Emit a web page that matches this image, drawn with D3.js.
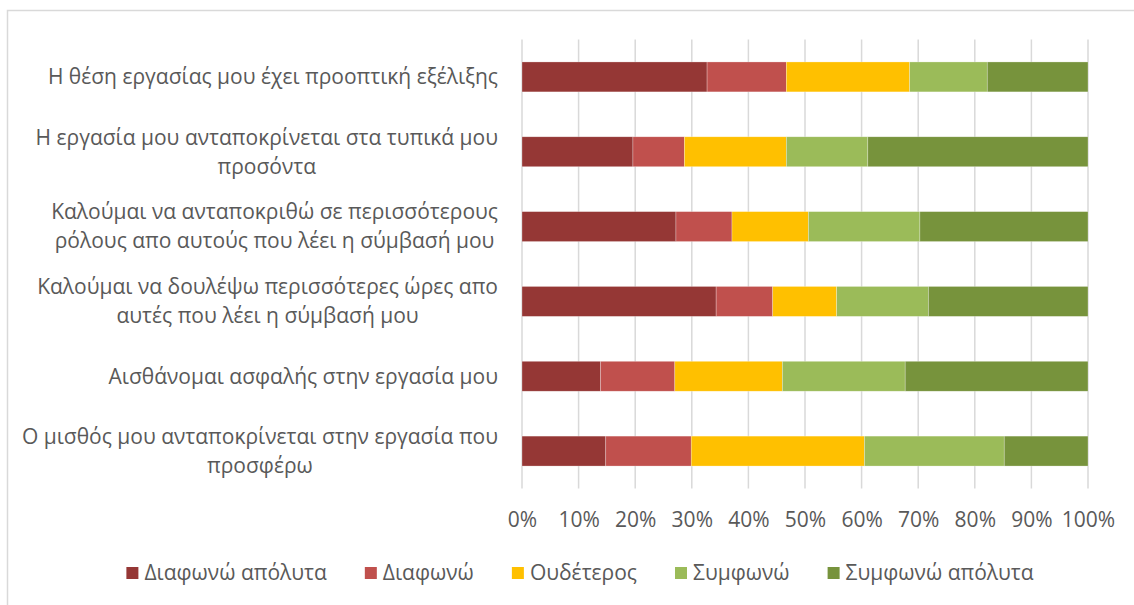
<!DOCTYPE html>
<html>
<head>
<meta charset="utf-8">
<script src="https://cdn.jsdelivr.net/npm/d3@7"></script>
<style>
  html, body { margin: 0; padding: 0; background: #fff; }
  svg { display: block; }
</style>
</head>
<body>
<svg id="chart" width="1134" height="605"></svg>
<script>
// ---------- DATA ----------
const categories = [
  "Η θέση εργασίας μου έχει προοπτική εξέλιξης",
  "Η εργασία μου ανταποκρίνεται στα τυπικά μου\nπροσόντα",
  "Καλούμαι να ανταποκριθώ σε περισσότερους\nρόλους απο αυτούς που λέει η σύμβασή μου",
  "Καλούμαι να δουλέψω περισσότερες ώρες απο\nαυτές που λέει η σύμβασή μου",
  "Αισθάνομαι ασφαλής στην εργασία μου",
  "Ο μισθός μου ανταποκρίνεται στην εργασία που\nπροσφέρω"
];
const seriesNames = ["Διαφωνώ απόλυτα", "Διαφωνώ", "Ουδέτερος", "Συμφωνώ", "Συμφωνώ απόλυτα"];
const seriesColors = ["#953735", "#C0504D", "#FFC000", "#9BBB59", "#77933C"];
const stronglyDisagree = [32.7, 19.6, 27.2, 34.3, 13.9, 14.8];
const disagree         = [14.0,  9.1,  9.9, 10.0, 13.1, 15.1];
const neutral          = [21.8, 18.0, 13.5, 11.3, 19.0, 30.6];
const agree            = [13.7, 14.4, 19.7, 16.2, 21.7, 24.7];
const stronglyAgree    = [17.8, 38.9, 29.7, 28.2, 32.3, 14.8];
const tickValues = [0, 0.1, 0.2, 0.3, 0.4, 0.5, 0.6, 0.7, 0.8, 0.9, 1.0];

// ---------- BUILD ----------
const seriesValues = [stronglyDisagree, disagree, neutral, agree, stronglyAgree];
const rows = categories.map((c, i) => {
  const r = { cat: c };
  seriesNames.forEach((s, j) => r[s] = seriesValues[j][i]);
  return r;
});
const stacked = d3.stack().keys(seriesNames).offset(d3.stackOffsetExpand)(rows);

const svg = d3.select("#chart");
const textColor = "#595959";
const gridColor = "#d9d9d9";
const fontFam = "'Open Sans', sans-serif";

// chart border
svg.append("rect")
  .attr("x", 7.5).attr("y", 10.5).attr("width", 1300).attr("height", 800)
  .attr("fill", "none").attr("stroke", gridColor).attr("stroke-width", 1.5);

const plot = { left: 522, right: 1088, top: 39.5, bottom: 488.5 };

const x = d3.scaleLinear().domain([0, 1]).range([plot.left, plot.right]);
const y = d3.scaleBand().domain(categories).range([plot.top, plot.bottom])
  .paddingInner(0.6).paddingOuter(0.3);

// gridlines
svg.append("g").selectAll("line").data(tickValues).join("line")
  .attr("x1", d => x(d)).attr("x2", d => x(d))
  .attr("y1", plot.top).attr("y2", plot.bottom)
  .attr("stroke", gridColor).attr("stroke-width", 1.5);

// bars
const color = d3.scaleOrdinal().domain(seriesNames).range(seriesColors);
svg.append("g").selectAll("g").data(stacked).join("g")
  .attr("fill", d => color(d.key))
  .selectAll("rect").data(d => d).join("rect")
  .attr("x", d => x(d[0]))
  .attr("width", d => x(d[1]) - x(d[0]))
  .attr("y", d => y(d.data.cat))
  .attr("height", y.bandwidth())
  .attr("stroke", "rgba(255,255,255,0.45)")
  .attr("stroke-width", 0.6);

// x axis (labels only)
const xAxis = d3.axisBottom(x).tickValues(tickValues).tickFormat(d3.format(".0%")).tickSize(0);
const gx = svg.append("g").attr("transform", `translate(0,${plot.bottom})`).call(xAxis);
gx.select(".domain").remove();
gx.selectAll("text")
  .attr("y", 31)
  .attr("dy", "0.35em")
  .attr("fill", textColor)
  .style("font-family", fontFam)
  .style("font-size", "21px");

// category labels (wrapped, block right-aligned, lines centered)
const labelRight = 498;
const lineH = 29;
const catG = svg.append("g")
  .style("font-family", fontFam)
  .style("font-size", "21px")
  .attr("fill", textColor);
categories.forEach(c => {
  const lines = c.split("\n");
  const g = catG.append("g");
  const cy = y(c) + y.bandwidth() / 2;
  const texts = lines.map((ln, k) => g.append("text")
    .attr("y", cy + (k - (lines.length - 1) / 2) * lineH)
    .attr("dy", "0.35em")
    .attr("text-anchor", "middle")
    .text(ln));
  const maxW = d3.max(texts, t => t.node().getComputedTextLength());
  texts.forEach(t => t.attr("x", labelRight - maxW / 2));
});

// legend
const legY = 573;
const sw = 12;
const legG = svg.append("g")
  .style("font-family", fontFam)
  .style("font-size", "21px");
let cursor = 123;
const gap = 38;
seriesNames.forEach((s, i) => {
  const g = legG.append("g");
  g.append("rect").attr("x", cursor).attr("y", legY - sw / 2).attr("width", sw).attr("height", sw)
    .attr("fill", seriesColors[i]);
  const t = g.append("text").attr("x", cursor + sw + 6).attr("y", legY).attr("dy", "0.35em")
    .attr("fill", textColor).text(s);
  cursor += sw + 6 + t.node().getComputedTextLength() + gap;
});
const totalW = cursor - gap - 123;
const shift = 580 - (123 + totalW / 2);
legG.attr("transform", `translate(${shift},0)`);
</script>
</body>
</html>
